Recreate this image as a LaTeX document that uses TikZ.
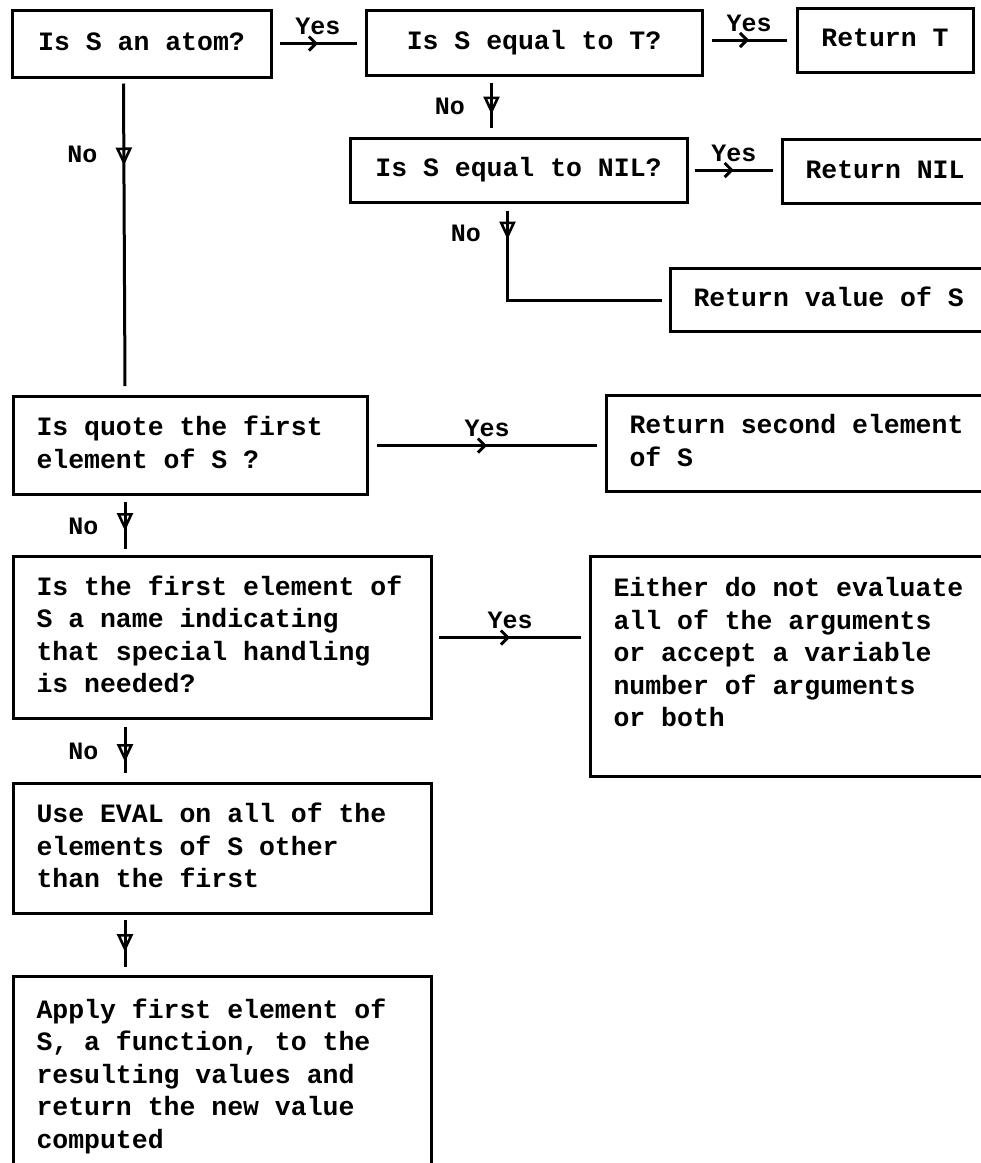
\documentclass[tikz,border=0pt]{standalone}
\usepackage{fontspec}
\newfontfamily\twfont{Liberation Mono}
\usetikzlibrary{arrows.meta,decorations.markings,calc}
\newcommand\boxlines[1]{\spaceskip=0pt\xspaceskip=0pt\begin{tabular}{@{}l@{}}#1\end{tabular}}
\begin{document}
\begin{tikzpicture}[x=1pt,y=-1pt,
  boxfont/.style={font=\twfont\bfseries\fontsize{26.5pt}{32.5pt}\selectfont},
  labfont/.style={font=\twfont\bfseries\fontsize{25pt}{30pt}\selectfont},
  flowbox/.style={draw=black, line width=3pt, rectangle, boxfont},
  cbox/.style={flowbox, inner sep=2pt},
  lbox/.style={flowbox, anchor=north west, inner xsep=23pt, inner ysep=0pt, align=left},
  conn/.style={draw=black, line width=3pt},
  notri/.style={postaction={decorate}, decoration={markings,
      mark=at position #1 with {\arrow{Triangle[open, length=18pt, width=16pt, line width=2.6pt]}}}},
  yesarr/.style={postaction={decorate}, decoration={markings,
      mark=at position 0.5 with {\arrow{Straight Barb[length=7pt, width=14pt, line width=3pt]}}}},
  yeslab/.style={labfont, midway, anchor=base, yshift=9pt, inner sep=0pt},
  nolab/.style={labfont, anchor=east, inner sep=0pt, xshift=-25pt},
]
\useasboundingbox (0,0) rectangle (981,1163);
\fill[white] (0,0) rectangle (981,1163);
\clip (0,0) rectangle (981,1163);

% boxes
\node[cbox, minimum width=259pt, minimum height=67pt] (B1) at (141.5,43.5) {\boxlines{Is S an atom?}};
\node[cbox, minimum width=336pt, minimum height=65pt] (B2) at (534,42.5) {\boxlines{Is S equal to T?}};
\node[cbox, minimum width=176pt, minimum height=64pt] (B3) at (885,40) {\boxlines{Return T}};
\node[cbox, minimum width=337pt, minimum height=64pt] (B4) at (518.5,170) {\boxlines{Is S equal to NIL?}};
\node[lbox, minimum width=260pt, text width=214pt, minimum height=64pt] (B5) at (781,138) {\boxlines{Return NIL}};
\node[lbox, minimum width=360pt, text width=314pt, minimum height=63pt] (B6) at (669,267) {\boxlines{Return value of S}};
\node[lbox, minimum width=354pt, text width=308pt, minimum height=98pt] (B7) at (12,395) {\boxlines{Is quote the first\\element of S ?}};
\node[lbox, minimum width=420pt, text width=374pt, minimum height=96pt] (B8) at (605,394) {\boxlines{Return second element\\of S}};
\node[lbox, minimum width=418pt, text width=372pt, minimum height=162pt] (B9) at (12,555) {\boxlines{Is the first element of\\S a name indicating\\that special handling\\is needed?}};
\node[lbox, minimum width=440pt, text width=394pt, minimum height=220pt] (B10) at (589,555) {\boxlines{Either do not evaluate\\all of the arguments\\or accept a variable\\number of arguments\\or both\rule[-32.75pt]{0pt}{32.75pt}}};
\node[lbox, minimum width=418pt, text width=372pt, minimum height=130pt] (B11) at (12,782) {\boxlines{Use EVAL on all of the\\elements of S other\\than the first}};
\node[lbox, minimum width=418pt, text width=372pt, minimum height=200pt] (B12) at (12,975) {\boxlines{Apply first element of\\S, a function, to the\\resulting values and\\return the new value\\computed}};

% Yes connectors
\draw[conn, yesarr] ($(B1.east)+(7,0)$) -- node[yeslab] {Yes} ($(B1.east -| B2.west)+(-8,0)$);
\draw[conn, yesarr] ($(B3.west -| B2.east)+(8,0)$) -- node[yeslab] {Yes} ($(B3.west)+(-9,0)$);
\draw[conn, yesarr] ($(B4.east)+(6,0)$) -- node[yeslab] {Yes} ($(B4.east -| B5.west)+(-8,0)$);
\draw[conn, yesarr] ($(B7.east)+(8,0)$) -- node[yeslab] {Yes} ($(B7.east -| B8.west)+(-8,0)$);
\draw[conn, yesarr] ($(B9.east)+(6,0)$) -- node[yeslab] {Yes} ($(B9.east -| B10.west)+(-8,0)$);

% No connectors
\draw[conn, notri=82pt] ($(B1.south west)+(113,5)$) -- node[nolab, pos=0.235] {No} ($(B7.north west)+(113,-9)$);
\draw[conn, notri=32pt] ($(B2.south west)+(127,6)$) -- node[nolab, pos=0.52] {No} ($(B4.north west)+(143,-9)$);
\draw[conn, notri=29pt] ($(B4.south west)+(159,7)$) |- node[nolab, pos=0.13] {No} ($(B6.west)+(-7,0)$);
\draw[conn, notri=29pt] ($(B7.south west)+(113,6)$) -- node[nolab, pos=0.52] {No} ($(B9.north west)+(113,-6)$);
\draw[conn, notri=35pt] ($(B9.south west)+(113,7)$) -- node[nolab, pos=0.53] {No} ($(B11.north west)+(113,-9)$);
\draw[conn, notri=32pt] ($(B11.south west)+(113,5)$) -- ($(B12.north west)+(113,-8)$);
\end{tikzpicture}
\end{document}
